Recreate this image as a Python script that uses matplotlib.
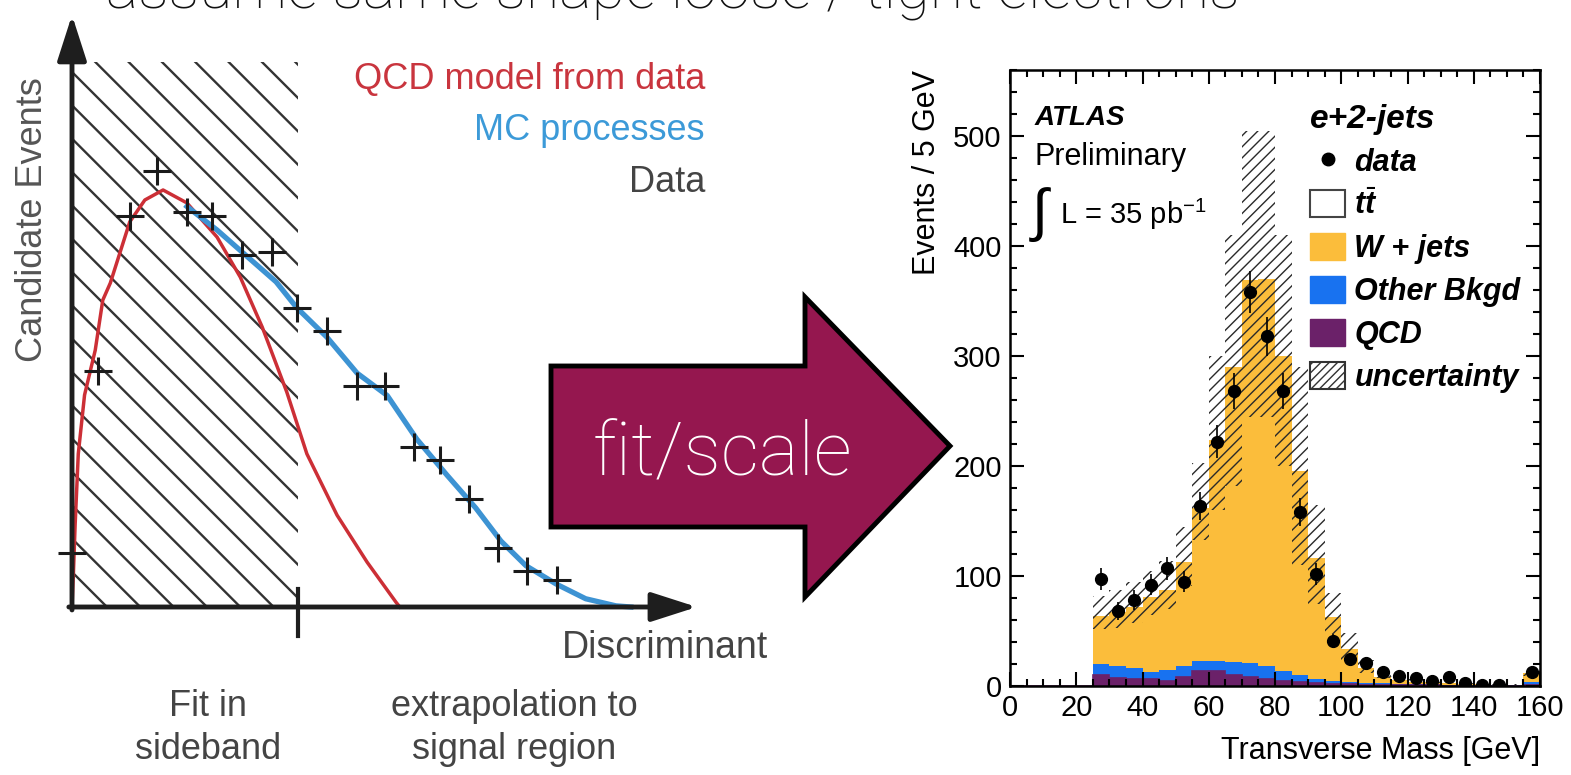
import numpy as np
import matplotlib
matplotlib.use("Agg")
import matplotlib.pyplot as plt
from matplotlib.patches import Patch, Polygon
from matplotlib.lines import Line2D

W, H = 1571, 775
plt.rcParams['font.family'] = ['Liberation Sans', 'DejaVu Sans']
plt.rcParams['mathtext.fontset'] = 'custom'
plt.rcParams['mathtext.rm'] = 'Liberation Sans'
plt.rcParams['mathtext.it'] = 'Liberation Sans:italic:bold'
plt.rcParams['mathtext.bf'] = 'Liberation Sans:bold'

# ---- esquema (izquierda): unidades arbitrarias 0..10 ----
CROSS_X = [0.00, 0.41, 0.92, 1.35, 1.83, 2.23, 2.71, 3.18, 3.58, 4.06, 4.54, 4.98,
           5.45, 5.86, 6.32, 6.78, 7.24, 7.72]
CROSS_Y = [0.92, 4.00, 6.63, 7.41, 6.70, 6.63, 5.98, 6.03, 5.08, 4.68, 3.75, 3.75,
           2.71, 2.49, 1.84, 1.01, 0.61, 0.46]
QCD_X = [0.00, 0.02, 0.05, 0.10, 0.20, 0.37, 0.49, 0.61, 0.92, 1.16, 1.45, 1.83, 2.31,
         2.68, 3.03, 3.42, 3.74, 4.22, 4.70, 5.16, 5.22]
QCD_Y = [0.00, 0.50, 1.40, 2.60, 3.60, 4.36, 5.21, 5.50, 6.54, 6.91, 7.08, 6.86, 6.28,
         5.60, 4.75, 3.65, 2.60, 1.56, 0.76, 0.08, 0.00]
MC_X = [1.83, 2.31, 2.79, 3.25, 3.58, 4.06, 4.54, 5.02, 5.49, 5.97, 6.43, 6.83, 7.23,
        7.71, 8.18, 8.66, 8.90]
MC_Y = [6.80, 6.40, 5.95, 5.52, 5.08, 4.58, 3.97, 3.59, 2.85, 2.24, 1.68, 1.12, 0.70,
        0.39, 0.14, 0.02, 0.00]
SIDEBAND_END = 3.6
SIDEBAND_TOP = 9.25

# ---- histograma ATLAS: bins de 5 GeV entre 25 y 160 ----
MT_EDGES = np.arange(25, 165, 5)
QCD = [9.7, 7.6, 6.7, 6.0, 5.0, 8.0, 13.6, 13.6, 9.7, 8.0, 6.0, 5.0, 3.6, 3.0, 2.0,
       1.5, 1.0, 0.8, 0.6, 0.5, 0.5, 0.4, 0.4, 0.3, 0.3, 0.3, 1.0]
OTHER = [10.3, 10.4, 9.3, 6.7, 10.0, 10.0, 9.1, 9.1, 12.1, 13.0, 12.0, 9.0, 6.1, 3.7,
         3.0, 2.5, 2.0, 1.7, 1.4, 1.3, 1.0, 0.9, 0.8, 0.7, 0.7, 0.7, 3.0]
WJETS = [44, 49, 56, 68, 72, 95, 139, 201, 268, 348, 352, 286, 186, 110, 58, 30, 13,
         6, 3.8, 2.2, 1.7, 1.1, 0.5, 0.6, 0.3, 0.3, 8]
TTBAR = [3, 3, 4, 4, 5, 5, 6, 6, 6, 6, 5, 5, 4, 3, 3, 2, 2, 1.5, 1.2, 1.0, 0.8, 0.6,
         0.5, 0.4, 0.3, 0.3, 1.0]
UNC = [15, 17, 19, 20, 22, 27, 35, 70, 114, 130, 130, 105, 90, 45, 19, 12, 6, 3, 2,
       1.5, 1.2, 1.0, 0.8, 0.7, 0.6, 0.6, 4]
DATA = [97, 68, 78, 92, 107, 95, 164, 222, 268, 358, 318, 268, 158, 102, 41, 25, 21,
        13, 9, 7, 5, 8.5, 3, 1, 1, 0, 13]

PURPLE, BLUE, YELLOW = '#6b2169', '#1872f0', '#fbbd3b'


def fx(x):
    return x / W


def fy(y):
    return 1 - y / H


def hatch_lw(artist, lw):
    if hasattr(artist, 'set_hatch_linewidth'):
        artist.set_hatch_linewidth(lw)


fig = plt.figure(figsize=(W / 100, H / 100), dpi=100)

# ---------------- esquema ----------------
axl = fig.add_axes([fx(72), fy(607), 628 / W, 589 / H])
axl.set_xlim(0, 10)
axl.set_ylim(0, 10)
axl.axis('off')

plt.rcParams['hatch.linewidth'] = 1.7
hp = axl.fill_between([0, SIDEBAND_END], 0, SIDEBAND_TOP, facecolor='none',
                      edgecolor='#333333', hatch='\\', lw=0)
hatch_lw(hp, 1.7)

arrow = dict(arrowstyle='-|>,head_length=1.4,head_width=0.45', lw=3.5,
             color='#1e1e1e', mutation_scale=20, shrinkA=0, shrinkB=0)
axl.annotate('', xy=(0, 10.05), xytext=(0, -0.05), arrowprops=arrow, annotation_clip=False)
axl.annotate('', xy=(9.95, 0), xytext=(-0.05, 0), arrowprops=arrow, annotation_clip=False)
axl.plot([SIDEBAND_END, SIDEBAND_END], [0.3, -0.5], color='#1e1e1e', lw=3, clip_on=False)

axl.plot(QCD_X, QCD_Y, color='#cc2f36', lw=2.5, solid_joinstyle='round', clip_on=False)
axl.plot(MC_X, MC_Y, color='#3d93d3', lw=3.8, solid_joinstyle='round', clip_on=False)
axl.plot(CROSS_X, CROSS_Y, '+', ms=20, mew=2.2, color='#1a1a1a', clip_on=False)

txt = dict(fontsize=26, va='center')
fig.text(fx(33), fy(220), 'Candidate Events', rotation=90, ha='center', color='#555555', **txt)
fig.text(fx(705), fy(80), 'QCD model from data', ha='right', color='#c9353e', **txt)
fig.text(fx(705), fy(130), 'MC processes', ha='right', color='#3c9ad8', **txt)
fig.text(fx(705), fy(183), 'Data', ha='right', color='#444444', **txt)
fig.text(fx(768), fy(648), 'Discriminant', ha='right', color='#444444', fontsize=27,
         va='center')
fig.text(fx(208), fy(728), 'Fit in\nsideband', ha='center', multialignment='center',
         linespacing=1.3, color='#444444', **txt)
fig.text(fx(514), fy(728), 'extrapolation to\nsignal region', ha='center',
         multialignment='center', linespacing=1.3, color='#444444', **txt)

# titulo de la diapositiva, cortado arriba como en el original
fig.text(fx(106), fy(8), 'assume same shape loose / tight electrons', ha='left',
         va='baseline', fontsize=44, family=['Roboto', 'DejaVu Sans'], weight='light',
         color='#111111')

# ---------------- histograma ----------------
axr = fig.add_axes([fx(1010), fy(686), 530 / W, 616 / H])
bottom = np.zeros(len(DATA))
for vals, col in [(QCD, PURPLE), (OTHER, BLUE), (WJETS, YELLOW), (TTBAR, 'white')]:
    top = bottom + np.array(vals)
    axr.stairs(top, MT_EDGES, baseline=bottom, fill=True, color=col, lw=0)
    bottom = top
total = bottom
axr.stairs(np.r_[np.zeros(5), QCD], np.arange(0, 165, 5), color=PURPLE, lw=1.2)

plt.rcParams['hatch.linewidth'] = 1.0
band = axr.stairs(total + np.array(UNC), MT_EDGES, baseline=total - np.array(UNC),
                  fill=True, facecolor='none', edgecolor='#2a2a2a', hatch='///', lw=0)
hatch_lw(band, 1.0)

data = np.array(DATA, dtype=float)
centers = 0.5 * (MT_EDGES[:-1] + MT_EDGES[1:])
m = data > 0
axr.errorbar(centers[m], data[m], yerr=np.sqrt(data[m]), fmt='o', color='black',
             ms=8.5, elinewidth=1.2, capsize=0, zorder=5)

axr.set_xlim(0, 160)
axr.set_ylim(0, 560)
axr.set_xticks(np.arange(0, 161, 20))
axr.set_xticks(np.arange(0, 161, 5), minor=True)
axr.set_yticks(np.arange(0, 501, 100))
axr.set_yticks(np.arange(0, 561, 20), minor=True)
axr.tick_params(which='both', direction='in', top=True, right=True, width=1.5,
                labelsize=21)
axr.tick_params(which='major', length=10, pad=6)
axr.tick_params(which='minor', length=5)
for s in axr.spines.values():
    s.set_linewidth(1.8)
axr.set_ylabel('Events / 5 GeV', loc='top', fontsize=22, labelpad=8)
axr.set_xlabel('Transverse Mass [GeV]', loc='right', fontsize=22, labelpad=10)

axr.text(0.047, 0.922, 'ATLAS', transform=axr.transAxes, fontsize=20, weight='bold',
         style='italic', va='center')
axr.text(0.047, 0.859, 'Preliminary', transform=axr.transAxes, fontsize=22, va='center')
axr.text(0.036, 0.765, r'$\int$', transform=axr.transAxes, fontsize=42, va='center')
axr.text(0.094, 0.765, r'L = 35 pb$^{\mathrm{-1}}$', transform=axr.transAxes,
         fontsize=21, va='center')

handles = [Line2D([], [], marker='o', ls='none', color='black', ms=9),
           Patch(facecolor='white', edgecolor='#444444', lw=1.5),
           Patch(facecolor=YELLOW, edgecolor=YELLOW),
           Patch(facecolor=BLUE, edgecolor=BLUE),
           Patch(facecolor=PURPLE, edgecolor=PURPLE),
           Patch(facecolor='white', edgecolor='#333333', hatch='////', lw=1.5)]
labels = ['data', r'$t\bar{t}$', 'W + jets', 'Other Bkgd', 'QCD', 'uncertainty']
axr.legend(handles, labels, loc='upper left', bbox_to_anchor=(0.566, 0.945),
           frameon=False, prop=dict(size=22, weight='bold', style='italic'),
           title='e+2-jets', title_fontproperties=dict(size=24, weight='bold', style='italic'),
           alignment='left', handlelength=1.15, handleheight=1.0, handletextpad=0.3,
           labelspacing=0.39, borderpad=0, borderaxespad=0)

# ---------------- flecha "fit/scale" ----------------
ov = fig.add_axes([0, 0, 1, 1])
ov.set_xlim(0, W)
ov.set_ylim(H, 0)
ov.axis('off')
ARROW = [(551, 366), (805, 366), (805, 297), (950, 446), (805, 597), (805, 527), (551, 527)]
ov.add_patch(Polygon(ARROW, closed=True, facecolor='#95174f', edgecolor='black', lw=3.5,
                     joinstyle='miter'))
ov.text(593, 475, 'fit/scale', ha='left', va='baseline', fontsize=54, color='white',
        family=['Roboto', 'DejaVu Sans'], weight='light')

fig.savefig('out.png', dpi=100)
